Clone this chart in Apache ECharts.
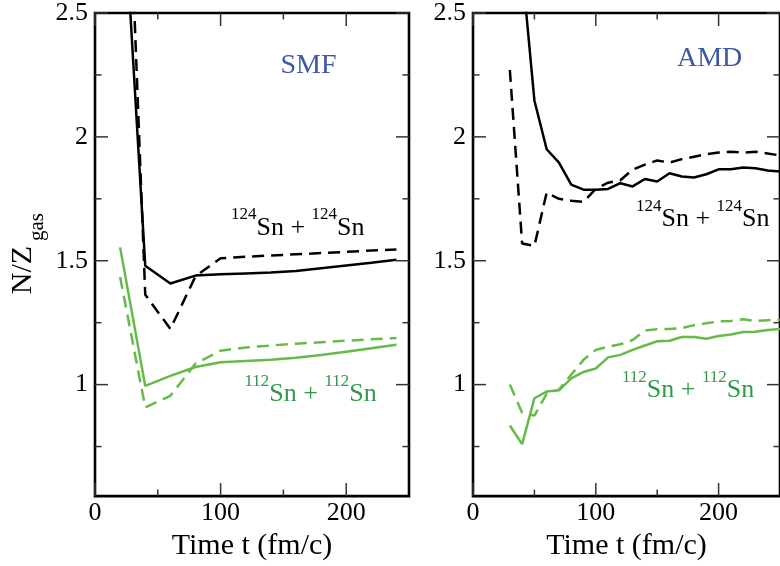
<!DOCTYPE html>
<html><head><meta charset="utf-8">
<script src="https://cdn.jsdelivr.net/npm/echarts@6/dist/echarts.min.js"></script>
<style>html,body{margin:0;padding:0;background:#fff}#c{width:780px;height:566px}</style>
</head><body><div id="c"></div>
<script>
// ---- data ----
const smfTime = [20, 40, 60, 80, 100, 120, 140, 160, 180, 200, 220, 240];
const smf124Solid  = [3.2, 1.48, 1.408, 1.44, 1.445, 1.449, 1.453, 1.459, 1.47, 1.481, 1.492, 1.504];
const smf124Dashed = [4.0, 1.363, 1.225, 1.437, 1.51, 1.516, 1.521, 1.526, 1.531, 1.536, 1.541, 1.545];
const smf112Solid  = [1.554, 0.995, 1.035, 1.071, 1.09, 1.095, 1.10, 1.108, 1.12, 1.133, 1.147, 1.161];
const smf112Dashed = [1.434, 0.908, 0.955, 1.085, 1.137, 1.15, 1.158, 1.165, 1.171, 1.177, 1.183, 1.188];

const amdTime = [30, 40, 50, 60, 70, 80, 90, 100, 110, 120, 130, 140, 150, 160, 170, 180, 190, 200, 210, 220, 230, 240, 250];
const amd124Solid  = [3.3, 2.68, 2.147, 1.95, 1.896, 1.807, 1.787, 1.787, 1.79, 1.813, 1.80, 1.83, 1.82, 1.853, 1.84, 1.836, 1.849, 1.869, 1.869, 1.876, 1.873, 1.864, 1.86];
const amd124Dashed = [2.27, 1.57, 1.56, 1.775, 1.75, 1.742, 1.738, 1.79, 1.815, 1.825, 1.868, 1.888, 1.905, 1.896, 1.91, 1.92, 1.93, 1.937, 1.94, 1.936, 1.94, 1.933, 1.925];
const amd112Solid  = [0.835, 0.76, 0.945, 0.972, 0.977, 1.025, 1.051, 1.065, 1.11, 1.12, 1.14, 1.158, 1.175, 1.177, 1.192, 1.192, 1.185, 1.196, 1.202, 1.212, 1.213, 1.22, 1.225];
const amd112Dashed = [1.0, 0.886, 0.875, 0.963, 0.98, 1.04, 1.1, 1.14, 1.153, 1.163, 1.18, 1.218, 1.224, 1.224, 1.228, 1.24, 1.248, 1.255, 1.257, 1.264, 1.257, 1.26, 1.262];

const xMajorTicks = [0, 100, 200];
const xMinorTicks = [50, 150];
const yMajorTicks = [1, 1.5, 2, 2.5];
const yMinorTicks = [0.75, 1.25, 1.75, 2.25];
const xTitle = 'Time t (fm/c)';
const panelNames = ['SMF', 'AMD'];
// ---- end data ----

const X_MIN = 0, X_MAX = 250, Y_MIN = 0.55, Y_MAX = 2.5;
const FONT = 'Liberation Serif';
const GREEN = '#66bb48', GREEN_TXT = '#2f9a4a', BLUE = '#3d57a8';
const MAJOR_LEN = 13, MINOR_LEN = 6.5;

const grids = [
  {left: 95, top: 12, width: 314, height: 487},
  {left: 473, top: 12, width: 316, height: 487}
];

function xAxis(g) {
  return {type: 'value', gridIndex: g, min: X_MIN, max: X_MAX, position: 'bottom',
    axisLine: {show: false}, splitLine: {show: false}, axisTick: {show: false},
    axisLabel: {customValues: xMajorTicks.slice(), margin: 4, fontFamily: FONT, fontSize: 26, color: '#000'},
    name: xTitle, nameLocation: 'middle', nameGap: 29,
    nameTextStyle: {fontFamily: FONT, fontSize: 30, color: '#000'}};
}
function yAxis(g) {
  return {type: 'value', gridIndex: g, min: Y_MIN, max: Y_MAX, position: 'left',
    axisLine: {show: false}, splitLine: {show: false}, axisTick: {show: false},
    axisLabel: {customValues: yMajorTicks.slice(), margin: 7, fontFamily: FONT, fontSize: 26, color: '#000'}};
}

// ticks drawn on all four sides, pointing inwards, through the axis scales
function tickSeries(g) {
  const data = [];
  xMajorTicks.forEach(v => data.push([v, 0]));
  xMinorTicks.forEach(v => data.push([v, 1]));
  yMajorTicks.forEach(v => data.push([v, 2]));
  yMinorTicks.forEach(v => data.push([v, 3]));
  return {
    type: 'custom', xAxisIndex: g, yAxisIndex: g, data: data, silent: true, z: 4, clip: false,
    encode: {x: 0},
    renderItem: function (params, api) {
      const v = api.value(0), k = api.value(1);
      const len = (k === 0 || k === 2) ? MAJOR_LEN : MINOR_LEN;
      const style = {stroke: '#333', lineWidth: 1.5};
      if (k < 2) {
        const b = api.coord([v, Y_MIN]), t = api.coord([v, Y_MAX]);
        return {type: 'group', children: [
          {type: 'line', shape: {x1: b[0], y1: b[1], x2: b[0], y2: b[1] - len}, style: style},
          {type: 'line', shape: {x1: t[0], y1: t[1], x2: t[0], y2: t[1] + len}, style: style}
        ]};
      }
      const l = api.coord([X_MIN, v]), r = api.coord([X_MAX, v]);
      return {type: 'group', children: [
        {type: 'line', shape: {x1: l[0], y1: l[1], x2: l[0] + len, y2: l[1]}, style: style},
        {type: 'line', shape: {x1: r[0], y1: r[1], x2: r[0] - len, y2: r[1]}, style: style}
      ]};
    }
  };
}

function zip(t, v) { return t.map((x, i) => [x, v[i]]); }
function line(g, t, v, color, dashed) {
  return {
    type: 'line', xAxisIndex: g, yAxisIndex: g, data: zip(t, v),
    symbol: 'none', clip: true, silent: true, z: 3,
    lineStyle: {color: color, width: 2.5, type: dashed ? [12, 7] : 'solid'}
  };
}

const mRich = (fill) => ({
  m: {fontFamily: FONT, fontSize: 26, lineHeight: 43, fill: fill},
  sup: {fontFamily: FONT, fontSize: 17, lineHeight: 17, verticalAlign: 'top', fill: fill}
});
function reactionLabel(x, y, a, fill) {
  return {type: 'text', x: x, y: y, silent: true,
    style: {text: '{sup|' + a + '}{m|Sn + }{sup|' + a + '}{m|Sn}', rich: mRich(fill),
      align: 'left', verticalAlign: 'top'}};
}

const option = {
  animation: false,
  backgroundColor: '#fff',
  grid: grids.map(g => Object.assign({show: true, borderColor: '#000', borderWidth: 2.6, backgroundColor: 'transparent', containLabel: false}, g)),
  xAxis: [xAxis(0), xAxis(1)],
  yAxis: [yAxis(0), yAxis(1)],
  series: [
    tickSeries(0), tickSeries(1),
    line(0, smfTime, smf124Solid, '#000', false),
    line(0, smfTime, smf124Dashed, '#000', true),
    line(0, smfTime, smf112Solid, GREEN, false),
    line(0, smfTime, smf112Dashed, GREEN, true),
    line(1, amdTime, amd124Solid, '#000', false),
    line(1, amdTime, amd124Dashed, '#000', true),
    line(1, amdTime, amd112Solid, GREEN, false),
    line(1, amdTime, amd112Dashed, GREEN, true)
  ],
  graphic: [
    {type: 'text', x: 280.5, y: 65.5, silent: true,
      style: {text: panelNames[0], fontFamily: FONT, fontSize: 28, fill: BLUE, align: 'left', verticalAlign: 'middle'}},
    {type: 'text', x: 677, y: 59, silent: true,
      style: {text: panelNames[1], fontFamily: FONT, fontSize: 28, fill: BLUE, align: 'left', verticalAlign: 'middle'}},
    reactionLabel(231, 206.4, '124', '#000'),
    reactionLabel(244.5, 373, '112', GREEN_TXT),
    reactionLabel(636, 198, '124', '#000'),
    reactionLabel(622, 369, '112', GREEN_TXT),
    {type: 'text', x: 23, y: 270, rotation: Math.PI / 2, silent: true,
      style: {text: 'N/Z', fontFamily: FONT, fontSize: 30, fill: '#000', align: 'center', verticalAlign: 'middle'}},
    {type: 'text', x: 37, y: 227, rotation: Math.PI / 2, silent: true,
      style: {text: 'gas', fontFamily: FONT, fontSize: 21, fill: '#000', align: 'center', verticalAlign: 'middle'}}
  ]
};
const chart = echarts.init(document.getElementById('c'), null, {renderer: 'canvas'});
chart.setOption(option);
</script>
</body></html>
